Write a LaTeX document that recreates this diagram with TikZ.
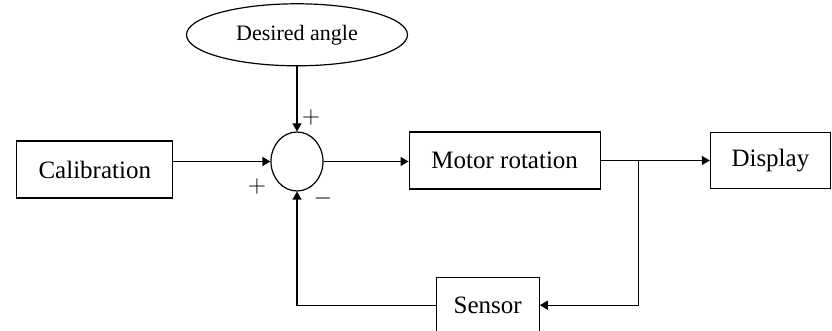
\documentclass[tikz,border=0pt]{standalone}
\usepackage{fontspec}
\setmainfont{Liberation Serif}
\usepackage{tikz}
\usetikzlibrary{shapes.geometric, arrows.meta, positioning}
\tikzset{
  basebox/.style={draw=black, line width=0.6pt, align=center, inner sep=0pt,
                  font=\fontsize{12.5}{14}\selectfont},
  blockbox/.style={basebox, rectangle},
  sumnode/.style={basebox, ellipse, minimum width=26pt, minimum height=29.5pt},
  goalnode/.style={basebox, ellipse, minimum width=110.5pt, minimum height=31pt,
                   font=\fontsize{11}{13}\selectfont},
  signlabel/.style={inner sep=0pt, font=\fontsize{12}{12}\selectfont},
  arrow/.style={-{Triangle[length=4pt,width=4.5pt]}, line width=0.6pt, color=black},
  plainline/.style={line width=0.6pt, color=black}
}
\begin{document}
\begin{tikzpicture}[x=0.5pt, y=0.5pt]

  \clip (0,0) rectangle (832,331);
  \fill[white] (0,0) rectangle (832,331);

  % ── Summing junction and inputs ──
  \node[sumnode] (sum) at (297,169.5) {};

  \node[goalnode, above=32.5pt of sum] (goal) {Desired angle};

  \node[blockbox, minimum width=78pt, minimum height=28.5pt,
        left=48.5pt of sum, yshift=-4pt] (cal) {Calibration};

  % ── Forward path ──
  \node[blockbox, minimum width=95.5pt, minimum height=28.5pt,
        right=42.5pt of sum, yshift=0.5pt] (motor) {Motor rotation};

  \node[blockbox, minimum width=60pt, minimum height=28pt,
        right=54.5pt of motor] (disp) {Display};

  \coordinate (split) at ([xshift=19pt]motor.east);

  % ── Feedback ──
  \node[blockbox, minimum width=51.5pt, minimum height=28pt,
        below=43.5pt of motor, xshift=-8.5pt] (sensor) {Sensor};

  % ── Signs ──
  \node[signlabel] (plusgoal) at ([shift={(7pt,21.75pt)}]sum.center) {$+$};
  \node[signlabel] (pluscal) at ([shift={(-20pt,-12.75pt)}]sum.center) {$+$};
  \node[signlabel] (minusfb) at ([shift={(13pt,-18.75pt)}]sum.center) {$-$};

  \draw[arrow] (goal.south) -- (sum.north);
  \draw[arrow] (cal.east |- sum.west) -- (sum.west);
  \draw[arrow] (sum.east) -- (motor.west |- sum.east);
  \draw[arrow] (motor.east) -- (disp.west |- motor.east);
  \draw[arrow] (split) |- (sensor.east);
  \draw[arrow] (sensor.west) -| (sum.south);

\end{tikzpicture}
\end{document}
